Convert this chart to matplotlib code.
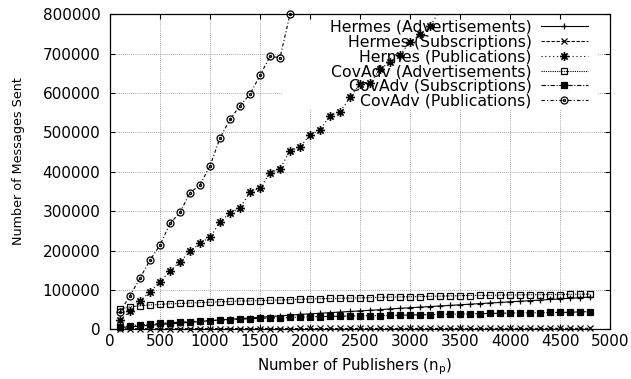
import matplotlib; matplotlib.use('Agg')
import matplotlib.pyplot as plt
from matplotlib.path import Path
from matplotlib.patches import Rectangle
import numpy as np

plt.rcParams.update({
    'font.family': 'DejaVu Sans', 'font.size': 11,
    'axes.linewidth': 0.9, 'lines.linewidth': 0.8,
})

publishers = np.arange(100, 4900, 100)

hermes_adv = [4500, 6500, 8500, 10500, 12500, 14000, 16000, 18000, 20000, 22000,
              24000, 25500, 27500, 29000, 31000, 32500, 34500, 36000, 38000, 39500,
              41000, 42500, 44000, 45500, 47000, 48500, 50000, 52000, 53500, 55000,
              56500, 58000, 59500, 61000, 62500, 64000, 65500, 67000, 68500, 70000,
              71500, 73000, 74500, 76000, 77500, 79000, 80500, 82000]
hermes_sub = [1500, 1600, 1700, 1700, 1800, 1800, 1900, 1900, 2000, 2000,
              2000, 2100, 2100, 2100, 2200, 2200, 2200, 2200, 2300, 2300,
              2300, 2300, 2300, 2400, 2400, 2400, 2400, 2400, 2400, 2500,
              2500, 2500, 2500, 2500, 2500, 2500, 2600, 2600, 2600, 2600,
              2600, 2600, 2600, 2600, 2700, 2700, 2700, 2700]
hermes_pub = [24000, 46700, 72000, 95700, 121000, 148000, 172000, 198000, 219000, 234000,
              272000, 296000, 308000, 349000, 359000, 397000, 408000, 453000, 463000, 494000,
              506000, 543000, 552000, 589000, 623000, 625000, 660000, 680000, 697000, 730000,
              749000, 770000, 810000]
covadv_adv = [52000, 57000, 60000, 62000, 63500, 65000, 66000, 67000, 68000, 69000,
              70000, 71000, 72000, 72500, 73000, 74000, 74500, 75500, 76500, 77500,
              78000, 78500, 79000, 79500, 80000, 80500, 81500, 82000, 82500, 83000,
              83500, 84000, 84500, 85000, 85500, 86000, 86500, 86500, 87000, 87500,
              87500, 88000, 88000, 88500, 88500, 89000, 89500, 89500]
covadv_sub = [7000, 9000, 11500, 13000, 15000, 16500, 18500, 19500, 21000, 22500,
              23500, 25000, 26000, 27000, 28000, 29000, 29500, 30500, 31000, 32000,
              32500, 33000, 33500, 34000, 34500, 35000, 35000, 35500, 36000, 36500,
              37000, 37500, 38000, 38500, 39000, 39500, 40000, 40500, 41000, 41500,
              42000, 42000, 42500, 43000, 43000, 43500, 44500, 45000]
covadv_pub = [45000, 85500, 130000, 176000, 214000, 269000, 297000, 347000, 367000, 415000,
              486000, 533000, 568000, 597000, 645000, 693000, 690000, 800000]

labels = ['Hermes (Advertisements)', 'Hermes (Subscriptions)', 'Hermes (Publications)',
          'CovAdv (Advertisements)', 'CovAdv (Subscriptions)', 'CovAdv (Publications)']

# gnuplot-style markers: "+" over "x", and a circle with a dot inside
d = 0.7
asterisk = Path([(-1, 0), (1, 0), (0, -1), (0, 1), (-d, -d), (d, d), (-d, d), (d, -d)],
                [Path.MOVETO, Path.LINETO] * 4)
dot_circle = Path.make_compound_path(Path.unit_circle(), Path.circle((0, 0), 0.3))

fig = plt.figure(figsize=(6.31, 3.79), dpi=100)
ax = fig.add_axes([110 / 631, 1 - 329.4 / 379, 500 / 631, 315.1 / 379])

k = dict(color='black', markersize=5, markeredgewidth=0.9)
h1, = ax.plot(publishers, hermes_adv, '-', marker='+', clip_on=False, **k)
h2, = ax.plot(publishers, hermes_sub, linestyle=(0, (3, 1.5)), marker='x',
              markersize=4, markeredgewidth=0.9, color='black', clip_on=False)
h3, = ax.plot(publishers[:len(hermes_pub)], hermes_pub, linestyle=(0, (1, 2.5)),
              marker=asterisk, color='black', markersize=6.5, markeredgewidth=1.2)
h4, = ax.plot(publishers, covadv_adv, linestyle=(0, (1, 1)), marker='s',
              mfc='none', clip_on=False, **k)
h5, = ax.plot(publishers, covadv_sub, linestyle=(0, (4, 1.5, 1, 1.5)), marker='s',
              clip_on=False, **k)
h6, = ax.plot(publishers[:len(covadv_pub)], covadv_pub, linestyle=(0, (3, 2, 1, 2)),
              marker=dot_circle, mfc='none', clip_on=False, **k)

ax.set_xlim(0, 5000)
ax.set_ylim(0, 800000)
ax.set_xticks(np.arange(0, 5001, 500))
ax.set_yticks(np.arange(0, 800001, 100000))
ax.ticklabel_format(style='plain', useOffset=False)
ax.tick_params(direction='in', length=3.8, width=0.8, top=True, right=True,
               labelsize=11)
ax.tick_params(axis='y', pad=7)
ax.tick_params(axis='x', pad=3)

ax.grid(True, color='#555555', linestyle=(0, (1, 2)), linewidth=0.5)
ax.set_axisbelow(True)
# white area behind the key hides the grid there
ax.add_patch(Rectangle((0.346, 0.70), 0.63, 0.282, transform=ax.transAxes,
                       facecolor='white', edgecolor='none', zorder=0.6))

ax.set_xlabel(r'Number of Publishers ($\mathregular{n_p}$)', fontsize=10.8)
ax.xaxis.set_label_coords(0.49, -0.085)
ax.set_ylabel('Number of Messages Sent', fontsize=9.2)
ax.yaxis.set_label_coords(-0.17, 0.533)

ax.legend([h1, h2, h3, h4, h5, h6], labels, loc='upper right',
          bbox_to_anchor=((588 - 110) / 500, 0.982), markerfirst=False,
          frameon=False, handlelength=3.0, handletextpad=0.6, borderpad=0,
          borderaxespad=0, labelspacing=-0.02, numpoints=1, fontsize=11.3)

fig.savefig('out.png', dpi=100)
